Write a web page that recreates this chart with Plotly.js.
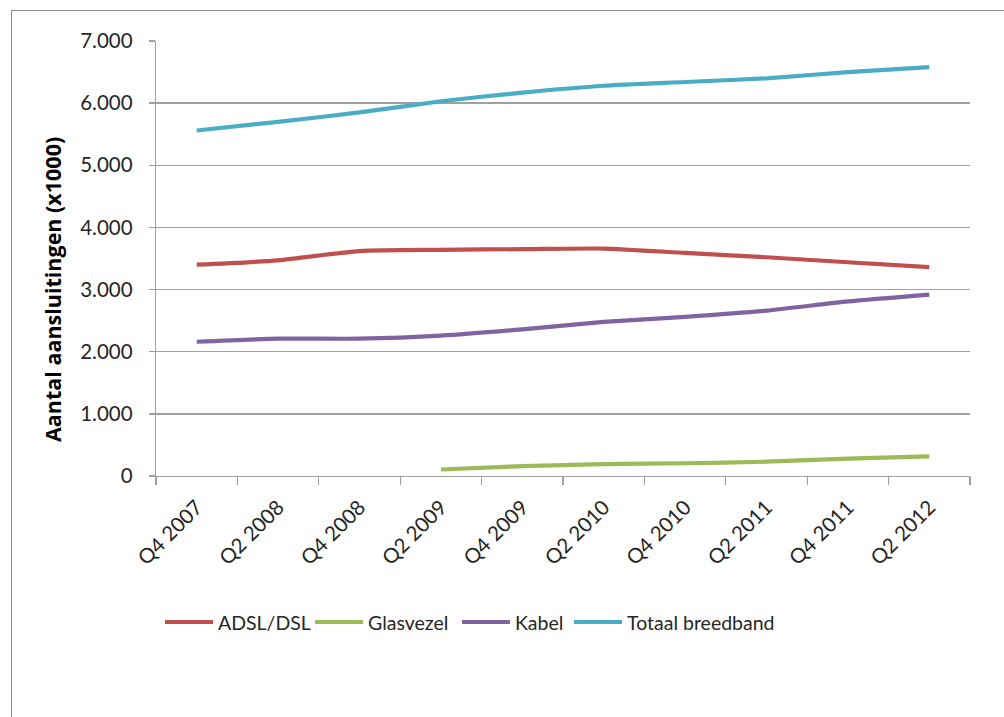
<!DOCTYPE html>
<html>
<head>
<meta charset="utf-8">
<script src="https://cdn.plot.ly/plotly-3.0.1.min.js"></script>
<style>
  html, body { margin: 0; padding: 0; background: #ffffff; overflow: hidden; }
  #wrap { position: relative; width: 1004px; height: 717px; }
  #chart { width: 1004px; height: 717px; }
  #frame { position: absolute; left: 11px; top: 10px; width: 1010px; height: 730px;
           border: 1.5px solid #8a8a8a; pointer-events: none; }
</style>
</head>
<body>
<div id="wrap">
  <div id="chart"></div>
  <div id="frame"></div>
</div>
<script>
// Breedbandaansluitingen per halfjaar (x1000)
const quarters = ['Q4 2007', 'Q2 2008', 'Q4 2008', 'Q2 2009', 'Q4 2009',
                  'Q2 2010', 'Q4 2010', 'Q2 2011', 'Q4 2011', 'Q2 2012'];
const adsl      = [3400, 3470, 3620, 3640, 3650, 3660, 3590, 3520, 3440, 3360];
const glasvezel = [null, null, null, 105, 160, 190, 205, 230, 280, 315];
const kabel     = [2160, 2210, 2210, 2260, 2360, 2480, 2560, 2660, 2810, 2920];
const totaal    = [5560, 5700, 5850, 6030, 6170, 6280, 6340, 6400, 6500, 6580];

const seriesNames  = ['ADSL/DSL', 'Glasvezel', 'Kabel', 'Totaal breedband'];
const seriesValues = [adsl, glasvezel, kabel, totaal];
const seriesColors = ['#C0504D', '#9BBB59', '#8064A2', '#4BACC6'];
const yTicks = [0, 1000, 2000, 3000, 4000, 5000, 6000, 7000];
const yTitle = 'Aantal aansluitingen (x1000)';

const FONT = 'Lato, "Open Sans", sans-serif';
const TITLE_FONT = '"Open Sans", Lato, sans-serif';
const TEXT = '#262626';
const GRID = '#a0a0a0';

const traces = seriesNames.map((name, i) => ({
  type: 'scatter',
  mode: 'lines',
  name: name,
  x: quarters,
  y: seriesValues[i],
  line: { color: seriesColors[i], width: 4.2, shape: 'spline', smoothing: 0.6 },
  connectgaps: false,
  hoverinfo: 'x+y+name'
}));

// plot area geometry in pixels, used for the hand-placed legend and axis title
const W = 1004, H = 717;
const margin = { l: 156, r: 34, t: 41, b: 241 };
const plotW = W - margin.l - margin.r;
const plotH = H - margin.t - margin.b;
const px2x = px => (px - margin.l) / plotW;
const py2y = py => (H - margin.b - py) / plotH;

const legendStarts = [165, 315, 462, 574];
const legendY = 622;
const sampleLen = 48;

const shapes = [];
const annotations = [];
seriesNames.forEach((name, i) => {
  const x0 = legendStarts[i];
  shapes.push({
    type: 'line', xref: 'paper', yref: 'paper',
    x0: px2x(x0), x1: px2x(x0 + sampleLen),
    y0: py2y(legendY), y1: py2y(legendY),
    line: { color: seriesColors[i], width: 4.2 }
  });
  annotations.push({
    xref: 'paper', yref: 'paper',
    x: px2x(x0 + sampleLen + 3), y: py2y(legendY),
    xanchor: 'left', yanchor: 'middle',
    text: name, showarrow: false,
    font: { family: FONT, size: 19.5, color: TEXT }
  });
});

// vertical axis title
annotations.push({
  xref: 'paper', yref: 'paper',
  x: px2x(52), y: py2y(290),
  xanchor: 'center', yanchor: 'middle',
  textangle: -90,
  text: '<b>' + yTitle + '</b>', showarrow: false,
  font: { family: TITLE_FONT, size: 21.5, color: '#000000' }
});

const layout = {
  width: W, height: H,
  margin: margin,
  paper_bgcolor: '#ffffff',
  plot_bgcolor: '#ffffff',
  separators: ',.',
  showlegend: false,
  font: { family: FONT, size: 20, color: TEXT },
  xaxis: {
    type: 'category',
    range: [-0.5, quarters.length - 0.5],
    tickson: 'boundaries',
    ticks: 'outside', ticklen: 8, tickwidth: 1.3, tickcolor: GRID,
    tickangle: -45,
    ticklabelstandoff: 10,
    showgrid: false,
    showline: true, linecolor: GRID, linewidth: 1.3,
    tickfont: { family: FONT, size: 20.5, color: TEXT },
    zeroline: false,
    fixedrange: true
  },
  yaxis: {
    range: [0, 7000],
    tickvals: yTicks,
    tickformat: ',',
    ticks: 'outside', ticklen: 6, tickwidth: 1.3, tickcolor: GRID,
    ticklabelstandoff: 12,
    showgrid: true, gridcolor: GRID, gridwidth: 1.3,
    showline: true, linecolor: GRID, linewidth: 1.3,
    zeroline: false,
    tickfont: { family: FONT, size: 20.5, color: TEXT },
    fixedrange: true
  },
  shapes: shapes,
  annotations: annotations
};

Plotly.newPlot('chart', traces, layout, { displayModeBar: false, staticPlot: true });
</script>
</body>
</html>
